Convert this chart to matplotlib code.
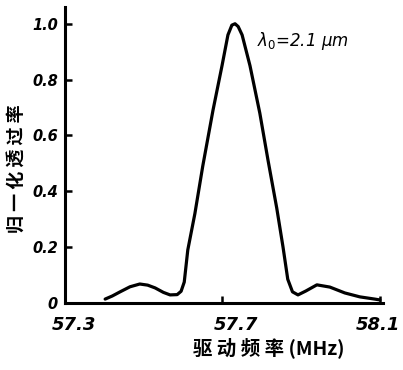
import numpy as np
import matplotlib
matplotlib.use("Agg")
from matplotlib import pyplot as plt
from matplotlib.transforms import ScaledTranslation

# drive frequency (MHz) and normalized transmission
freq = [57.402, 57.420, 57.440, 57.465, 57.490, 57.510, 57.529, 57.550, 57.567,
        57.585, 57.595, 57.603, 57.612, 57.630, 57.650, 57.676, 57.699, 57.714,
        57.724, 57.732, 57.740, 57.750, 57.770, 57.795, 57.816, 57.838, 57.854,
        57.866, 57.878, 57.892, 57.912, 57.940, 57.973, 58.011, 58.049, 58.087, 58.100]
trans = [0.014, 0.025, 0.040, 0.058, 0.068, 0.064, 0.054, 0.038, 0.029,
         0.030, 0.042, 0.075, 0.19, 0.32, 0.49, 0.69, 0.85, 0.96,
         0.995, 1.0, 0.99, 0.96, 0.85, 0.68, 0.51, 0.34, 0.20,
         0.085, 0.040, 0.029, 0.043, 0.065, 0.057, 0.036, 0.022, 0.014, 0.011]

xticks = [57.3, 57.7, 58.1]
xticklabels = ["57.3", "57.7", "58.1"]
yticks = [0, 0.2, 0.4, 0.6, 0.8, 1.0]
yticklabels = ["0", "0.2", "0.4", "0.6", "0.8", "1.0"]

cjk = ['Noto Sans CJK SC', 'DejaVu Sans']

fig = plt.figure(figsize=(4.03, 3.70), dpi=100)
ax = fig.add_axes([65/403, 67/370, 318/403, 296/370])
ax.plot(freq, trans, color="black", linewidth=2.3, solid_joinstyle="round", solid_capstyle="round")

ax.set_xlim(57.3, 58.108)
ax.set_ylim(0, 1.06)
for s in ["top", "right"]:
    ax.spines[s].set_visible(False)
for s in ["left", "bottom"]:
    ax.spines[s].set_linewidth(2.2)

ax.set_xticks(xticks)
ax.set_xticklabels(xticklabels, fontsize=13, fontweight="bold", style="italic")
ax.set_yticks(yticks)
ax.set_yticklabels(yticklabels, fontsize=10.5, fontweight="bold", style="italic")
ax.tick_params(direction="in", width=1.8, length=5, pad=5)
ax.tick_params(axis="x", pad=9)

# hand-lettered labels sit a bit off their ticks in the original
shifts = [9, 14, -2]
for lab, dx in zip(ax.get_xticklabels(), shifts):
    lab.set_transform(lab.get_transform() + ScaledTranslation(dx/100, 0, fig.dpi_scale_trans))

ax.set_xlabel("驱 动 频 率 (MHz)", fontsize=14, fontweight="bold", style="italic",
              family=cjk)
ax.xaxis.set_label_coords(0.64, -0.115)
ax.set_ylabel("归 一 化 透 过 率", fontsize=13, fontweight="bold", family=cjk)
ax.yaxis.set_label_coords(-0.12, 0.455)

ax.text(57.788, 0.94, r"$\lambda_0$=2.1 $\mu$m", fontsize=12, style="italic", va="center")

fig.savefig("out.png", dpi=100)
